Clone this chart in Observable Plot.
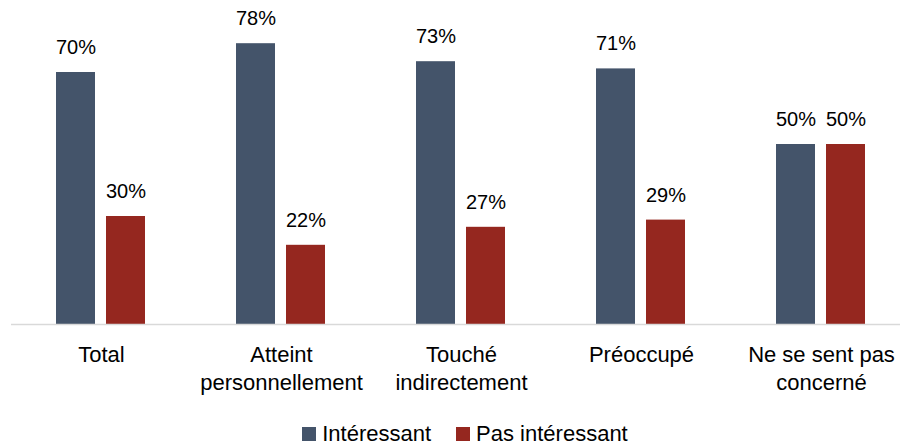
<!DOCTYPE html>
<html>
<head>
<meta charset="utf-8">
<script src="https://cdn.jsdelivr.net/npm/d3@7"></script>
<script src="https://cdn.jsdelivr.net/npm/@observablehq/plot@0.6"></script>
<style>
  html, body { margin: 0; padding: 0; background: #fff; }
  #chart { width: 900px; height: 448px; overflow: hidden; font-family: "Liberation Sans", Arial, sans-serif; }
  #legend { display: flex; justify-content: center; gap: 25px; padding-left: 30px; padding-top: 5px; height: 28px; line-height: 28px; font-size: 22px; color: #000; }
  #legend .item { display: flex; align-items: center; }
  #legend .sw { width: 14px; height: 14px; margin-right: 6px; display: inline-block; }
</style>
</head>
<body>
<div id="chart"></div>
<script>
const groups = ["Total", "Atteint personnellement", "Touché indirectement", "Préoccupé", "Ne se sent pas concerné"];
const groupLabels = ["Total", "Atteint\npersonnellement", "Touché\nindirectement", "Préoccupé", "Ne se sent pas\nconcerné"];
const series = ["Intéressant", "Pas intéressant"];
const interessant = [70, 78, 73, 71, 50];
const pasInteressant = [30, 22, 27, 29, 50];
const colors = ["#44546A", "#95271F"];

const data = groups.flatMap((g, i) => [
  { group: g, series: series[0], value: interessant[i] },
  { group: g, series: series[1], value: pasInteressant[i] }
]);

const plot = Plot.plot({
  width: 900,
  height: 415,
  marginTop: 0,
  marginBottom: 91,
  marginLeft: 10,
  marginRight: 0,
  style: { fontFamily: "Liberation Sans, Arial, sans-serif", color: "#000", background: "#fff" },
  fx: { domain: groups, range: [10.5, 911.5], padding: 0, label: null },
  x: { domain: series, paddingInner: 0.216, paddingOuter: 0.873, axis: null },
  y: { domain: [0, 90], axis: null },
  color: { domain: series, range: colors },
  marks: [
    Plot.barY(data, { fx: "group", x: "series", y: "value", fill: "series" }),
    Plot.ruleY([0], { stroke: "#D9D9D9", strokeWidth: 1.5 }),
    Plot.text(data, { fx: "group", x: "series", y: "value", text: d => d.value + "%", dy: -25, fontSize: 20, fill: "#000" }),
    Plot.axisFx({ anchor: "bottom", tickSize: 0, tickPadding: 18, fontSize: 22, lineAnchor: "top", lineHeight: 1.25, tickFormat: g => groupLabels[groups.indexOf(g)], label: null, fill: "#000" })
  ]
});

const chart = document.getElementById("chart");
chart.appendChild(plot);

const legend = document.createElement("div");
legend.id = "legend";
series.forEach((s, i) => {
  const item = document.createElement("div");
  item.className = "item";
  const sw = document.createElement("span");
  sw.className = "sw";
  sw.style.background = colors[i];
  const label = document.createElement("span");
  label.textContent = s;
  item.appendChild(sw);
  item.appendChild(label);
  legend.appendChild(item);
});
chart.appendChild(legend);
</script>
</body>
</html>
